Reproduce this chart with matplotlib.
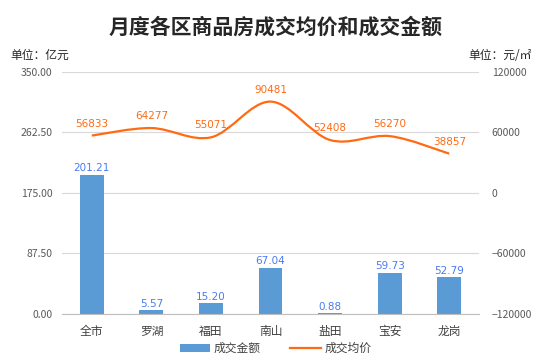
import numpy as np
import matplotlib.pyplot as plt
from matplotlib.path import Path
from matplotlib.patches import PathPatch, Patch
from matplotlib.lines import Line2D

plt.rcParams['font.family'] = ['Noto Sans CJK SC', 'DejaVu Sans']

# 数据
districts = ['全市', '罗湖', '福田', '南山', '盐田', '宝安', '龙岗']
amount = [201.21, 5.57, 15.20, 67.04, 0.88, 59.73, 52.79]      # 成交金额 亿元
price = [56833, 64277, 55071, 90481, 52408, 56270, 38857]      # 成交均价 元/㎡

bar_color = '#5B9BD5'
line_color = '#FF6A13'
label_blue = '#4A7BF0'
tick_gray = '#595959'

fig = plt.figure(figsize=(5.51, 3.62), dpi=100)
ax = fig.add_axes([0.1125, 0.1326, 0.757, 0.669])
ax2 = ax.twinx()

x = np.arange(len(districts))
ax.bar(x, amount, width=0.40, color=bar_color, zorder=2)
for xi, v in zip(x, amount):
    ax.annotate(f'{v:.2f}', (xi, v), xytext=(0, 1), textcoords='offset points',
                ha='center', va='bottom', fontsize=7.5, color=label_blue,
                family=['DejaVu Sans'])

ax.set_xlim(-0.5, len(districts) - 0.5)
ax.set_ylim(0, 350)
ax.set_yticks(np.arange(0, 351, 87.5))
ax.set_yticklabels([f'{t:.2f}' for t in np.arange(0, 351, 87.5)])
ax.set_xticks(x)
ax.set_xticklabels(districts)
ax.grid(axis='y', color='#D9D9D9', linewidth=0.8, zorder=0)
ax.set_axisbelow(True)
for s in ['top', 'left', 'right']:
    ax.spines[s].set_visible(False)
    ax2.spines[s].set_visible(False)
ax.spines['bottom'].set_color('#BFBFBF')
ax2.spines['bottom'].set_visible(False)
ax.tick_params(axis='both', length=0, labelsize=7.5, labelcolor=tick_gray)
ax.tick_params(axis='x', pad=8, labelsize=8.5, labelcolor='#404040')
ax.tick_params(axis='y', pad=7)

# 平滑折线（Catmull-Rom 转贝塞尔）
pts = np.column_stack([x, price]).astype(float)
ext = np.vstack([pts[0], pts, pts[-1]])
verts = [tuple(pts[0])]
codes = [Path.MOVETO]
for i in range(len(pts) - 1):
    p0, p1, p2, p3 = ext[i], ext[i + 1], ext[i + 2], ext[i + 3]
    c1 = p1 + (p2 - p0) / 6
    c2 = p2 - (p3 - p1) / 6
    verts += [tuple(c1), tuple(c2), tuple(p2)]
    codes += [Path.CURVE4] * 3
ax2.add_patch(PathPatch(Path(verts, codes), facecolor='none', edgecolor=line_color,
                        linewidth=1.6, zorder=3))
for xi, v in zip(x, price):
    ax2.annotate(f'{v}', (xi, v), xytext=(0, 5), textcoords='offset points',
                 ha='center', va='bottom', fontsize=7.5, color=line_color,
                 family=['DejaVu Sans'])

ax2.set_ylim(-120000, 120000)
ax2.set_yticks(np.arange(-120000, 120001, 60000))
ax2.tick_params(axis='y', length=0, labelsize=7.5, labelcolor=tick_gray, pad=9)

fig.text(0.5, 0.925, '月度各区商品房成交均价和成交金额', ha='center', va='center',
         fontsize=15, fontweight='bold', color='#262626')
fig.text(0.018, 0.848, '单位：亿元', ha='left', va='center', fontsize=8.5, color='#262626')
fig.text(0.965, 0.848, '单位：元/㎡', ha='right', va='center', fontsize=8.5, color='#262626')

handles = [Patch(facecolor=bar_color, label='成交金额'),
           Line2D([0], [0], color=line_color, linewidth=1.6, label='成交均价')]
fig.legend(handles=handles, loc='lower center', bbox_to_anchor=(0.5, -0.01), ncol=2,
           frameon=False, fontsize=8.5, handlelength=2.6, handleheight=0.6,
           columnspacing=2.5, handletextpad=0.3, labelcolor='#404040')

fig.savefig('out.png', dpi=100)
